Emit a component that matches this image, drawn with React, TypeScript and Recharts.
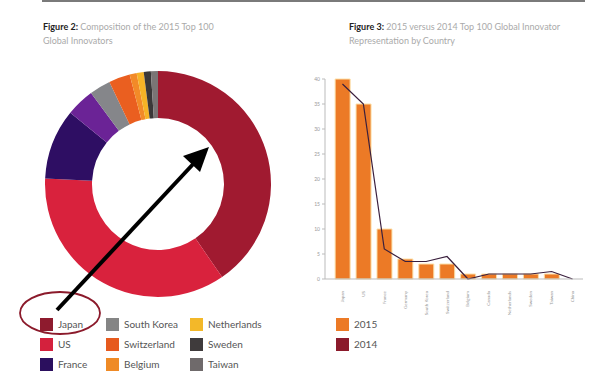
import {
    PieChart,
    Pie,
    Cell,
    ComposedChart,
    Bar,
    Line,
    XAxis,
    YAxis,
} from "recharts";

// donut: 2015 composition
const pieNames = ["Japan", "US", "France", "Germany", "South Korea", "Switzerland", "Belgium", "Netherlands", "Sweden", "Taiwan"];
const pieValues = [40, 35, 10, 4, 3, 3, 1, 1, 1, 1];
const pieColors = ["#A01A30", "#D9223D", "#2E0E63", "#6B2396", "#85868A", "#EA5F20", "#F28A28", "#F6B326", "#3B3838", "#7A7575"];

// legend under the donut (3 columns)
const legendNames = ["Japan", "US", "France", "South Korea", "Switzerland", "Belgium", "Netherlands", "Sweden", "Taiwan"];
const legendColors = ["#8E1B2E", "#D4213D", "#2B0F5E", "#858585", "#E65A1E", "#EF8A25", "#F3B829", "#3F3B3C", "#6F6A6B"];

// bars + line: 2015 vs 2014
const countries = ["Japan", "US", "France", "Germany", "South Korea", "Switzerland", "Belgium", "Canada", "Netherlands", "Sweden", "Taiwan", "China"];
const values2015 = [40, 35, 10, 4, 3, 3, 1, 1, 1, 1, 1, 0];
const values2014 = [39, 35, 6, 3.5, 3.5, 4.5, 0, 1, 1, 1, 1.5, 0];
const yTicks = [0, 5, 10, 15, 20, 25, 30, 35, 40];

const FONT = "Lato, 'Noto Sans', sans-serif";
const ORANGE = "#EC7A26";
const DARK_RED = "#8B1A2B";

const pieData = pieNames.map((name, i) => ({ name, value: pieValues[i] }));
const barData = countries.map((name, i) => ({
    name,
    y2015: values2015[i],
    y2014: values2014[i],
}));

const CountryTick = (props: any) => {
    const { x, y, payload } = props;
    return (
        <text
            transform={`translate(${x + 1.5},${y + 4}) rotate(-90)`}
            textAnchor="end"
            fontSize={4.5}
            fill="#999"
            fontFamily={FONT}
        >
            {payload.value}
        </text>
    );
};

const Swatch = ({ x, y, color, label }: { x: number; y: number; color: string; label: string }) => (
    <div style={{ position: "absolute", left: x, top: y, display: "flex", alignItems: "center" }}>
        <div style={{ width: 13, height: 13, background: color }} />
        <span style={{ marginLeft: 5, fontSize: 10, color: "#555", fontFamily: FONT, lineHeight: "13px" }}>
            {label}
        </span>
    </div>
);

const colX = [40, 106, 190];
const rowY = [318, 338, 358];

export default function App() {
    return (
        <div
            style={{
                position: "fixed",
                left: 0,
                top: 0,
                width: 603,
                height: 375,
                background: "#fff",
                overflow: "hidden",
                fontFamily: FONT,
            }}
        >
            {/* rule at the top */}
            <div style={{ position: "absolute", left: 42, top: 0, width: 543, height: 2, background: "#7a7a7a" }} />

            {/* titles */}
            <div style={{ position: "absolute", left: 43, top: 20, fontSize: 9, lineHeight: "14px", color: "#aaa", width: 240 }}>
                <b style={{ color: "#222" }}>Figure 2:</b> Composition of the 2015 Top 100
                <br />
                Global Innovators
            </div>
            <div style={{ position: "absolute", left: 349, top: 20, fontSize: 9, lineHeight: "14px", color: "#aaa", width: 250 }}>
                <b style={{ color: "#222" }}>Figure 3:</b> 2015 versus 2014 Top 100 Global Innovator
                <br />
                Representation by Country
            </div>

            {/* donut */}
            <div style={{ position: "absolute", left: 33, top: 59 }}>
                <PieChart width={240} height={240}>
                    <Pie
                        data={pieData}
                        dataKey="value"
                        cx={120}
                        cy={120}
                        innerRadius={66}
                        outerRadius={113}
                        startAngle={90}
                        endAngle={-270}
                        stroke="none"
                        isAnimationActive={false}
                    >
                        {pieData.map((_, i) => (
                            <Cell key={`cell-${i}`} fill={pieColors[i]} />
                        ))}
                    </Pie>
                </PieChart>
            </div>

            {/* donut legend */}
            {legendNames.map((name, i) => (
                <Swatch
                    key={name}
                    x={colX[Math.floor(i / 3)]}
                    y={rowY[i % 3]}
                    color={legendColors[i]}
                    label={name}
                />
            ))}

            {/* bar chart */}
            <div style={{ position: "absolute", left: 290, top: 60 }}>
                <ComposedChart
                    width={300}
                    height={262}
                    data={barData}
                    margin={{ top: 19, right: 7, bottom: 3, left: 0 }}
                    barCategoryGap="15%"
                >
                    <XAxis
                        dataKey="name"
                        interval={0}
                        height={40}
                        padding={{ left: 7, right: 0 }}
                        tickLine={false}
                        axisLine={{ stroke: "#bbb" }}
                        tick={<CountryTick />}
                    />
                    <YAxis
                        width={35}
                        domain={[0, 40]}
                        ticks={yTicks}
                        interval={0}
                        tickSize={3}
                        tickLine={{ stroke: "#bbb" }}
                        axisLine={{ stroke: "#bbb" }}
                        tick={{ fontSize: 5, fill: "#999", fontFamily: FONT }}
                    />
                    <Bar
                        dataKey="y2015"
                        fill={ORANGE}
                        stroke="#FCE0A8"
                        strokeWidth={1}
                        isAnimationActive={false}
                    />
                    <Line
                        type="linear"
                        dataKey="y2014"
                        stroke="#3A1F3D"
                        strokeWidth={1.2}
                        dot={false}
                        isAnimationActive={false}
                    />
                </ComposedChart>
            </div>

            {/* bar chart legend */}
            <Swatch x={336} y={318} color={ORANGE} label="2015" />
            <Swatch x={336} y={338} color={DARK_RED} label="2014" />

            {/* hand-drawn annotation: circle round Japan and arrow */}
            <svg
                width={603}
                height={375}
                style={{ position: "absolute", left: 0, top: 0, pointerEvents: "none" }}
            >
                <ellipse cx={60} cy={313} rx={40} ry={21} fill="none" stroke="#8B1A2B" strokeWidth={1.8} />
                <line x1={57} y1={310} x2={196} y2={161} stroke="#000" strokeWidth={4} />
                <polygon points="209,147 183,156 200,172" fill="#000" />
            </svg>
        </div>
    );
}
